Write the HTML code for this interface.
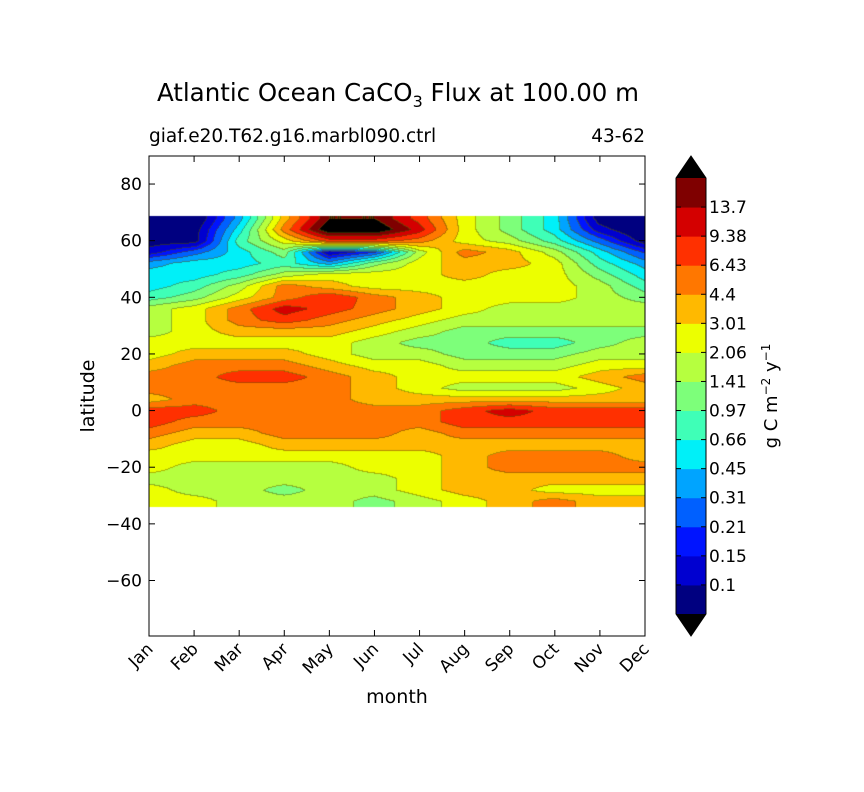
<!DOCTYPE html>
<html><head><meta charset="utf-8"><style>
body{margin:0;background:#fff;}
#root{position:relative;width:864px;height:788px;font-family:"DejaVu Sans","Liberation Sans",sans-serif;color:#000;}
svg text{font-family:"DejaVu Sans","Liberation Sans",sans-serif;}
</style></head><body>
<div id="root">
<svg id="svg" width="864" height="788" viewBox="0 0 864 788" xmlns="http://www.w3.org/2000/svg">
  <text x="398" y="101" font-size="24.5" text-anchor="middle">Atlantic Ocean CaCO<tspan font-size="16" dy="6">3</tspan><tspan dy="-6"> Flux at 100.00 m</tspan></text>
  <text x="149" y="142" font-size="18.5">giaf.e20.T62.g16.marbl090.ctrl</text>
  <text x="645" y="142" font-size="18.5" text-anchor="end">43-62</text>
  <foreignObject x="149" y="156" width="496" height="480">
    <canvas id="cv" width="496" height="480" xmlns="http://www.w3.org/1999/xhtml"></canvas>
  </foreignObject>
  <g id="axes"></g>
  <text x="397" y="703" font-size="19" text-anchor="middle">month</text>
  <text x="0" y="0" font-size="19" text-anchor="middle" transform="translate(94,396) rotate(-90)">latitude</text>
  <g id="cbar"></g>
  <text x="0" y="0" font-size="18" text-anchor="middle" transform="translate(777,396) rotate(-90)">g C m<tspan font-size="12" dy="-7">−2</tspan><tspan dy="7"> y</tspan><tspan font-size="12" dy="-7">−1</tspan></text>
</svg>
</div>
<script>
const months = ["Jan","Feb","Mar","Apr","May","Jun","Jul","Aug","Sep","Oct","Nov","Dec"];
const lats = [68,64,60,56,52,48,44,40,36,32,28,24,20,16,12,8,4,0,-4,-8,-12,-16,-20,-24,-28,-32];
const levelBounds = [0.07,0.1,0.15,0.21,0.31,0.45,0.66,0.97,1.41,2.06,3.01,4.4,6.43,9.38,13.7,20];
const levelLabels = ["0.1","0.15","0.21","0.31","0.45","0.66","0.97","1.41","2.06","3.01","4.4","6.43","9.38","13.7"];
const yTicks = [80,60,40,20,0,-20,-40,-60];
// CaCO3 flux (g C m-2 y-1), rows = lats, cols = months
const flux = [
[0.06,0.06,0.38,3.6,20,20,7.9,2.5,1.2,0.55,0.08,0.06],
[0.06,0.08,0.55,5.3,30,30,11.5,2.5,1.2,0.55,0.12,0.06],
[0.08,0.08,0.8,2.5,7.9,7.9,5.3,2.5,1.7,0.8,0.26,0.08],
[0.12,0.26,0.55,1.2,0.1,0.2,1.7,5.3,3.6,1.7,0.55,0.2],
[0.38,0.55,0.55,0.8,0.38,1.2,2.5,3.6,3.6,2.5,0.8,0.38],
[0.55,0.55,0.8,1.7,2.5,2.5,2.5,3.6,2.5,2.5,1.2,0.55],
[0.55,0.8,1.7,5.3,3.6,2.5,2.5,2.5,2.5,2.5,1.7,0.8],
[0.8,1.2,2.5,5.3,9,5.3,3.6,2.5,2.5,2.5,1.7,1.2],
[1.7,2.5,5.3,11.5,7.9,5.3,3.6,2.5,1.7,1.7,1.7,1.7],
[1.7,2.5,5.3,7.9,5.3,3.6,2.5,1.7,1.7,1.7,1.7,1.7],
[1.7,2.5,3.6,3.6,3.6,2.5,1.7,1.2,1.2,1.2,1.2,1.2],
[2.5,2.5,2.5,2.5,2.5,1.7,1.2,1.2,0.8,0.8,1.2,1.7],
[2.5,3.6,3.6,3.6,2.5,1.7,1.7,1.2,1.2,1.2,1.7,1.7],
[3.6,5.3,5.3,5.3,3.6,2.5,2.5,1.7,1.7,1.7,2.5,2.5],
[5.3,5.3,7.9,7.9,5.3,3.6,2.5,2.5,2.5,2.5,3.6,5.3],
[5.3,5.3,5.3,5.3,5.3,3.6,2.5,1.7,1.7,1.7,2.5,3.6],
[3.6,5.3,5.3,5.3,5.3,3.6,3.6,3.6,3.6,3.6,3.6,3.6],
[7.9,7.9,5.3,5.3,5.3,5.3,5.3,7.9,11.5,7.9,7.9,7.9],
[7.9,5.3,5.3,5.3,5.3,5.3,5.3,7.9,7.9,7.9,7.9,7.9],
[5.3,3.6,3.6,5.3,5.3,5.3,3.6,5.3,5.3,5.3,5.3,5.3],
[3.6,2.5,2.5,3.6,3.6,3.6,3.6,3.6,3.6,3.6,3.6,3.6],
[2.5,2.5,2.5,2.5,2.5,2.5,2.5,3.6,5.3,5.3,5.3,3.6],
[2.5,1.7,1.7,1.7,1.7,2.5,2.5,3.6,5.3,5.3,5.3,5.3],
[1.7,1.7,1.7,1.7,1.7,1.7,2.5,3.6,3.6,3.6,3.6,3.6],
[2.5,1.7,1.7,1.2,1.7,1.7,2.5,3.6,3.6,2.5,2.5,2.5],
[2.5,2.5,1.7,1.7,1.7,1.2,1.7,2.5,3.6,5.3,3.6,3.6]
];
const colors = ["#000080","#0000d0","#0014ff","#0060ff","#00a4ff","#00f0f8","#3fffb7","#7dff7a","#b6ff3f","#ecff00","#ffb900","#ff7700","#ff3000","#d40000","#7f0000","#000000"];
const NS="http://www.w3.org/2000/svg";
const PX0=149,PX1=645,PY0=156,PY1=636,LATMAX=89.9,LATMIN=-79.6;
const xScale = m => PX0 + (PX1-PX0)*m/(months.length-1);
const yScale = lat => PY0 + (LATMAX-lat)/(LATMAX-LATMIN)*(PY1-PY0);
const latTop = 69, latBot = -34;
function levelOf(v){let k=0;for(let i=0;i<levelBounds.length;i++){if(v>=levelBounds[i])k=i;} if(v<levelBounds[0])k=0; if(v>=levelBounds[levelBounds.length-1])k=15; return k;}
function sample(lat,m){
  let r=0;
  if(lat>=lats[0]) r=0; else if(lat<=lats[lats.length-1]) r=lats.length-1; else {for(let i=0;i<lats.length-1;i++){if(lat<=lats[i]&&lat>=lats[i+1]){r=i+(lats[i]-lat)/(lats[i]-lats[i+1]);break;}}}
  const r0=Math.floor(r),r1=Math.min(r0+1,lats.length-1),fr=r-r0;
  const c=Math.max(0,Math.min(months.length-1,m)),c0=Math.floor(c),c1=Math.min(c0+1,months.length-1),fc=c-c0;
  const L=(a,b)=>Math.log(flux[a][b]);
  const v=(1-fr)*((1-fc)*L(r0,c0)+fc*L(r0,c1))+fr*((1-fc)*L(r1,c0)+fc*L(r1,c1));
  return Math.exp(v);
}
const cv=document.getElementById('cv'),ctx=cv.getContext('2d');
const W=cv.width,H=cv.height,img=ctx.createImageData(W,H);
const lv=new Int16Array(W*H).fill(-1);
function hex(c){return [parseInt(c.substr(1,2),16),parseInt(c.substr(3,2),16),parseInt(c.substr(5,2),16)];}
const rgb=colors.map(hex);
const yTop=yScale(latTop)-PY0,yBot=yScale(latBot)-PY0;
for(let y=0;y<H;y++){
  if(y<yTop||y>yBot) continue;
  const lat=LATMAX-y/(PY1-PY0)*(LATMAX-LATMIN);
  for(let x=0;x<W;x++){
    const m=x/(W-1)*(months.length-1);
    lv[y*W+x]=levelOf(sample(lat,m));
  }
}
for(let y=0;y<H;y++)for(let x=0;x<W;x++){
  const i=y*W+x,k=lv[i];let c=[255,255,255];
  if(k>=0){c=rgb[k];
    const kr=x+1<W?lv[i+1]:k,kd=y+1<H?lv[i+W]:k;
    if((kr>=0&&kr!==k)||(kd>=0&&kd!==k)){c=[c[0]*0.55+40,c[1]*0.55+40,c[2]*0.55];}
  }
  img.data[i*4]=c[0];img.data[i*4+1]=c[1];img.data[i*4+2]=c[2];img.data[i*4+3]=255;
}
ctx.putImageData(img,0,0);
const ax=document.getElementById('axes');
function el(tag,attrs,parent){const e=document.createElementNS(NS,tag);for(const k in attrs)e.setAttribute(k,attrs[k]);parent.appendChild(e);return e;}
const frame=el('rect',{x:PX0,y:PY0,width:PX1-PX0,height:PY1-PY0,fill:'none',stroke:'#000','stroke-width':1},ax);


months.forEach((mn,i)=>{
  const x=xScale(i);
  const t1=el('line',{x1:x,x2:x,y1:PY1,y2:PY1-6,stroke:'#000'},ax);
  
  
  const t2=el('line',{x1:x,x2:x,y1:PY0,y2:PY0+6,stroke:'#000'},ax);
  
  
  const tx=el('text',{x:0,y:0,'font-size':17,'text-anchor':'end',transform:`translate(${x+5},${PY1+14}) rotate(-45)`},ax);
  tx.textContent=mn;
  
  
});
yTicks.forEach(v=>{
  const y=yScale(v);
  const t1=el('line',{x1:PX0,x2:PX0+6,y1:y,y2:y,stroke:'#000'},ax);
  
  
  const t2=el('line',{x1:PX1,x2:PX1-6,y1:y,y2:y,stroke:'#000'},ax);
  
  
  const tx=el('text',{x:PX0-7,y:y+6,'font-size':17,'text-anchor':'end'},ax);
  tx.textContent=(v<0?'−':'')+Math.abs(v);
  
  
});
const cb=document.getElementById('cbar');
const CX0=676,CX1=706,CY0=178,CY1=614,nseg=15,seg=(CY1-CY0)/nseg;
for(let s=0;s<nseg;s++){
  const r=el('rect',{x:CX0,y:CY1-(s+1)*seg,width:CX1-CX0,height:seg+0.5,fill:colors[s]},cb);
  
  
}
const tu=el('polygon',{points:`${CX0},${CY0} ${CX1},${CY0} ${(CX0+CX1)/2},156`,fill:'#000'},cb);


const td=el('polygon',{points:`${CX0},${CY1} ${CX1},${CY1} ${(CX0+CX1)/2},636`,fill:'#000'},cb);


const cbo=el('polygon',{points:`${(CX0+CX1)/2},156 ${CX1},${CY0} ${CX1},${CY1} ${(CX0+CX1)/2},636 ${CX0},${CY1} ${CX0},${CY0}`,fill:'none',stroke:'#000'},cb);


levelLabels.forEach((lab,i)=>{
  const y=CY1-(i+1)*seg;
  const l1=el('line',{x1:CX0,x2:CX0+5,y1:y,y2:y,stroke:'#000'},cb);
  
  
  const l2=el('line',{x1:CX1,x2:CX1-5,y1:y,y2:y,stroke:'#000'},cb);
  
  
  const tx=el('text',{x:CX1+3,y:y+6,'font-size':17},cb);
  tx.textContent=lab;
  
  
});
</script>
</body></html>
